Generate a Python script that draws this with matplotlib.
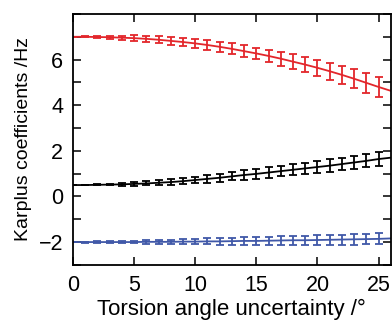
import matplotlib
matplotlib.use('Agg')
import matplotlib.pyplot as plt
from matplotlib.ticker import MultipleLocator

plt.rcParams['font.family'] = ['Liberation Sans', 'DejaVu Sans']

# torsion angle uncertainty (degrees)
angles = list(range(0, 27))

# Karplus coefficients A (red), B (black), C (blue)
coef_a = [7.0, 7.0, 6.99, 6.98, 6.96, 6.94, 6.91, 6.87, 6.82, 6.77, 6.71, 6.64, 6.56,
          6.47, 6.37, 6.27, 6.16, 6.04, 5.91, 5.78, 5.64, 5.49, 5.33, 5.16, 4.98, 4.80, 4.63]
coef_b = [0.50, 0.50, 0.51, 0.52, 0.53, 0.55, 0.57, 0.60, 0.63, 0.67, 0.72, 0.77, 0.82,
          0.88, 0.94, 0.99, 1.05, 1.11, 1.17, 1.23, 1.29, 1.35, 1.42, 1.49, 1.56, 1.64, 1.70]
coef_c = [-2.0, -2.0, -2.0, -2.0, -2.0, -2.0, -1.99, -1.99, -1.99, -1.98, -1.98, -1.97, -1.97,
          -1.96, -1.95, -1.95, -1.94, -1.93, -1.92, -1.92, -1.91, -1.90, -1.89, -1.88, -1.87, -1.86, -1.84]

# error bars for the first 26 angles (0..25)
err_a = [0.01, 0.02, 0.04, 0.06, 0.09, 0.13, 0.14, 0.16, 0.18, 0.19, 0.21, 0.22, 0.23,
         0.24, 0.25, 0.26, 0.28, 0.30, 0.32, 0.34, 0.36, 0.38, 0.40, 0.42, 0.43, 0.44]
err_b = [0.01, 0.02, 0.03, 0.04, 0.06, 0.08, 0.09, 0.10, 0.12, 0.13, 0.15, 0.16, 0.17,
         0.18, 0.20, 0.21, 0.22, 0.23, 0.24, 0.25, 0.26, 0.27, 0.28, 0.28, 0.29, 0.29]
err_c = [0.01, 0.02, 0.03, 0.04, 0.05, 0.06, 0.08, 0.09, 0.10, 0.11, 0.12, 0.13, 0.14,
         0.15, 0.16, 0.17, 0.18, 0.19, 0.20, 0.20, 0.21, 0.22, 0.22, 0.23, 0.23, 0.24]

colors = ['#e3262b', '#000000', '#4058a8']
yticks = [-2, 0, 2, 4, 6]

fig = plt.figure(figsize=(3.92, 3.25), dpi=100)
ax = fig.add_axes([0.186, 0.185, 0.811, 0.772])

n = len(err_a)
for vals, errs, c in zip([coef_a, coef_b, coef_c], [err_a, err_b, err_c], colors):
    ax.plot(angles, vals, color=c, lw=1.3)
    ax.errorbar(angles[:n], vals[:n], yerr=errs, fmt='none', ecolor=c,
                elinewidth=1.3, capsize=2.8, capthick=1.3)

ax.set_xlim(0, 26)
ax.set_ylim(-3, 8)
ax.xaxis.set_major_locator(MultipleLocator(5))
ax.set_yticks(yticks)
ax.yaxis.set_minor_locator(MultipleLocator(1))
ax.tick_params(which='both', direction='in', top=True, right=True, labelsize=15.5, width=1.1)
ax.tick_params(which='major', length=6, pad=7)
ax.tick_params(which='minor', length=6)
for s in ax.spines.values():
    s.set_linewidth(1.3)

ax.set_xlabel('Torsion angle uncertainty /°', fontsize=16, labelpad=2)
ax.set_ylabel('Karplus coefficients /Hz', fontsize=14, labelpad=5)

plt.savefig('out.png', dpi=100)
